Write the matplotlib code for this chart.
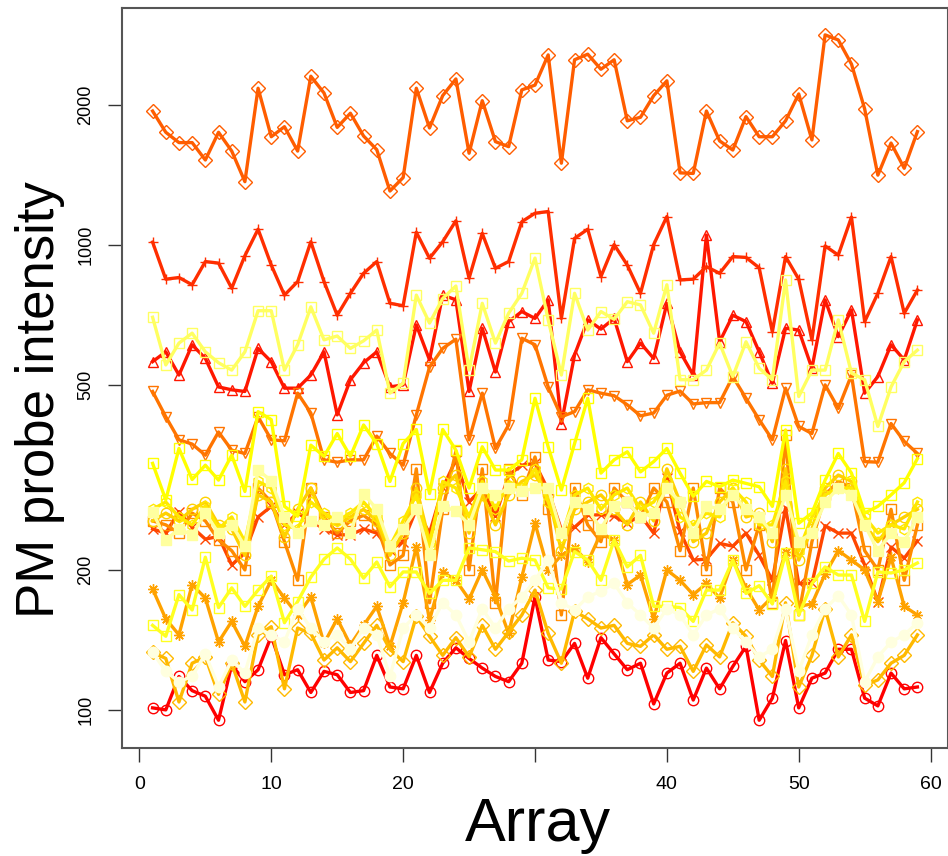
import matplotlib
matplotlib.use('Agg')
import matplotlib.pyplot as plt
import numpy as np

# 探针强度数据 (59 个芯片, 16 个探针)
arrays = list(range(1, 60))

probe01 = [101, 100, 118, 110, 107, 95, 125, 115, 122, 144,
           119, 122, 109, 121, 119, 109, 110, 131, 112, 111,
           131, 109, 126, 136, 129, 123, 118, 115, 126, 175,
           128, 127, 139, 117, 143, 132, 122, 126, 103, 120,
           126, 105, 123, 111, 124, 137, 95, 106, 141, 101,
           117, 120, 135, 135, 106, 102, 120, 111, 112]
probe02 = [561, 589, 525, 610, 570, 495, 488, 484, 599, 561,
           492, 492, 525, 589, 431, 513, 558, 589, 495, 500,
           673, 566, 780, 762, 484, 662, 533, 684, 719, 695,
           762, 413, 580, 690, 659, 695, 561, 615, 570, 749,
           589, 525, 1050, 619, 706, 684, 589, 504, 662, 656,
           543, 762, 635, 725, 480, 521, 610, 566, 690]
probe03 = [1014, 844, 851, 821, 921, 914, 807, 948, 1081, 905,
           780, 834, 1016, 834, 706, 787, 869, 921, 749, 740,
           1065, 936, 1016, 1127, 848, 1059, 891, 921, 1122, 1170,
           1180, 695, 1033, 1081, 855, 1002, 905, 787, 1002, 1151,
           841, 844, 898, 869, 944, 940, 893, 650, 944, 844,
           625, 995, 951, 1148, 684, 787, 944, 713, 800]
probe04 = [245, 240, 267, 247, 233, 236, 205, 218, 260, 274,
           250, 265, 255, 245, 238, 238, 245, 240, 221, 230,
           270, 240, 300, 345, 280, 300, 261, 320, 336, 339,
           297, 244, 247, 262, 263, 261, 252, 262, 240, 315,
           242, 210, 211, 228, 225, 240, 215, 190, 272, 187,
           187, 249, 240, 240, 205, 171, 224, 212, 231]
probe05 = [1941, 1747, 1660, 1660, 1523, 1747, 1592, 1368, 2173, 1709,
           1796, 1592, 2306, 2122, 1790, 1920, 1715, 1603, 1306, 1396,
           2173, 1785, 2095, 2275, 1575, 2043, 1668, 1627, 2155, 2207,
           2563, 1499, 2502, 2572, 2387, 2502, 1849, 1882, 2095, 2254,
           1429, 1425, 1941, 1674, 1600, 1888, 1709, 1709, 1849, 2112,
           1682, 2830, 2760, 2449, 1961, 1413, 1656, 1462, 1753]
probe06 = [484, 427, 381, 373, 353, 396, 362, 356, 427, 381,
           379, 480, 435, 345, 341, 345, 345, 388, 356, 336,
           431, 546, 599, 627, 381, 480, 365, 410, 630, 610,
           495, 427, 438, 488, 480, 474, 453, 429, 435, 475,
           485, 455, 458, 458, 521, 468, 421, 381, 492, 407,
           393, 500, 445, 525, 342, 341, 413, 378, 356]
probe07 = [255, 250, 240, 265, 255, 232, 220, 200, 300, 280,
           230, 190, 300, 260, 240, 255, 262, 250, 205, 215,
           330, 170, 270, 360, 200, 330, 170, 330, 290, 350,
           270, 160, 300, 250, 230, 300, 280, 260, 300, 280,
           220, 300, 200, 300, 280, 200, 250, 170, 390, 160,
           230, 290, 310, 300, 220, 200, 270, 190, 250]
probe08 = [182, 157, 145, 186, 174, 140, 155, 137, 167, 190,
           174, 160, 175, 139, 157, 138, 152, 167, 137, 170,
           224, 156, 198, 190, 173, 200, 175, 146, 193, 252,
           200, 215, 223, 208, 240, 232, 186, 195, 157, 200,
           190, 177, 187, 174, 210, 183, 164, 175, 219, 167,
           169, 196, 220, 210, 200, 171, 213, 167, 160]
probe09 = [133, 129, 104, 126, 130, 108, 126, 104, 145, 151,
           111, 150, 146, 128, 136, 127, 139, 152, 135, 127,
           159, 144, 131, 143, 130, 152, 135, 147, 160, 181,
           146, 126, 163, 157, 150, 152, 139, 137, 145, 135,
           137, 121, 138, 130, 154, 144, 128, 118, 170, 112,
           131, 165, 130, 145, 113, 116, 126, 131, 145]
probe10 = [255, 265, 255, 270, 280, 250, 245, 215, 290, 280,
           235, 270, 300, 255, 250, 260, 270, 255, 215, 240,
           300, 230, 300, 320, 240, 290, 250, 290, 310, 320,
           290, 220, 270, 280, 290, 270, 250, 280, 255, 330,
           280, 230, 240, 280, 300, 260, 265, 230, 330, 210,
           245, 300, 320, 310, 250, 230, 250, 260, 270]
probe11 = [270, 280, 260, 250, 275, 245, 260, 230, 310, 300,
           250, 245, 280, 265, 255, 265, 280, 260, 225, 255,
           290, 225, 310, 300, 260, 310, 270, 310, 300, 330,
           280, 235, 290, 300, 270, 290, 300, 270, 280, 310,
           260, 250, 265, 260, 300, 280, 250, 250, 310, 220,
           260, 290, 300, 300, 260, 240, 250, 245, 280]
probe12 = [339, 283, 365, 313, 336, 312, 353, 295, 438, 421,
           274, 261, 371, 351, 393, 351, 410, 374, 310, 374,
           401, 292, 401, 362, 300, 368, 328, 328, 345, 468,
           368, 297, 374, 468, 323, 345, 359, 325, 342, 365,
           323, 288, 310, 302, 312, 307, 302, 274, 400, 252,
           265, 312, 356, 323, 265, 274, 290, 308, 347]
probe13 = [152, 144, 177, 164, 213, 166, 183, 167, 181, 194,
           154, 171, 193, 211, 223, 211, 192, 208, 184, 198,
           198, 178, 190, 190, 223, 221, 219, 209, 212, 210,
           183, 182, 219, 210, 190, 232, 203, 215, 167, 167,
           166, 155, 181, 181, 210, 178, 185, 169, 217, 160,
           187, 203, 195, 195, 155, 198, 197, 200, 207]
probe14 = [699, 552, 615, 646, 589, 558, 538, 589, 722, 722,
           538, 610, 736, 625, 637, 599, 622, 656, 480, 504,
           780, 679, 767, 816, 538, 749, 615, 713, 787, 937,
           690, 525, 787, 656, 719, 692, 755, 743, 646, 821,
           513, 513, 538, 615, 521, 619, 543, 513, 841, 472,
           538, 538, 690, 530, 513, 407, 495, 561, 594]
probe15 = [267, 232, 245, 238, 265, 240, 250, 225, 328, 311,
           260, 240, 255, 250, 260, 240, 292, 270, 225, 245,
           270, 215, 274, 268, 250, 300, 290, 300, 295, 300,
           300, 240, 280, 270, 245, 275, 280, 260, 265, 300,
           280, 240, 275, 270, 290, 270, 260, 240, 290, 230,
           240, 280, 300, 290, 250, 220, 240, 230, 260]
probe16 = [133, 121, 115, 118, 132, 112, 128, 120, 150, 145,
           140, 165, 150, 140, 145, 135, 150, 145, 118, 150,
           160, 150, 170, 160, 140, 165, 150, 165, 175, 190,
           210, 170, 164, 175, 180, 187, 170, 160, 150, 165,
           160, 145, 160, 165, 150, 140, 130, 135, 165, 121,
           145, 165, 176, 160, 115, 130, 140, 145, 154]

probes = [probe01, probe02, probe03, probe04, probe05, probe06, probe07, probe08,
          probe09, probe10, probe11, probe12, probe13, probe14, probe15, probe16]

# R heat.colors(16) 配色
colors = ['#FF0000', '#FF1700', '#FF2E00', '#FF4600', '#FF5D00', '#FF7400',
          '#FF8B00', '#FFA200', '#FFB900', '#FFD100', '#FFE800', '#FFFF00',
          '#FFFF20', '#FFFF60', '#FFFF9F', '#FFFFDF']
markers = ['o', '^', '+', 'x', 'D', 'v', 's', (8, 2, 0),
           'D', 'o', 'h', 's', 's', 's', 's', 'o']
filled = [False] * 14 + [True, True]

tick_font = ['Liberation Sans Narrow', 'Liberation Sans', 'DejaVu Sans']
label_font = ['Liberation Sans', 'DejaVu Sans']

fig = plt.figure(figsize=(9.48, 8.56), dpi=100)
ax = fig.add_axes([122 / 948, 1 - 748 / 856, 826 / 948, 740 / 856])

for vals, c, m, f in zip(probes, colors, markers, filled):
    ax.plot(arrays, vals, color=c, linewidth=2.4, marker=m, markersize=7.5,
            markerfacecolor=c if f else 'none', markeredgecolor=c,
            markeredgewidth=1.0)

ax.set_yscale('log')
ax.set_xlim(-1.32, 61.32)
ax.set_ylim(82.8, 3233)

ax.set_xticks([0, 10, 20, 30, 40, 50, 60])
ax.set_xticklabels(['0', '10', '20', '', '40', '50', '60'], family=tick_font, fontsize=14)
ax.set_yticks([100, 200, 500, 1000, 2000])
ax.set_yticklabels(['100', '200', '500', '1000', '2000'], family=tick_font, fontsize=13,
                   rotation=90, va='center')
ax.yaxis.set_minor_locator(matplotlib.ticker.NullLocator())
ax.tick_params(axis='both', length=10, width=1.0, color='#333333')
ax.tick_params(axis='x', pad=10)
ax.tick_params(axis='y', pad=10)

for sp in ax.spines.values():
    sp.set_color('#555555')
    sp.set_linewidth(1.5)

fig.text(40 / 948, 1 - 400 / 856, 'PM probe intensity', rotation=90,
         ha='center', va='center', family=label_font, fontsize=38)
fig.text(538 / 948, 1 - 841 / 856, 'Array', ha='center', va='baseline',
         family=label_font, fontsize=44)

fig.savefig('out.png', dpi=100)
